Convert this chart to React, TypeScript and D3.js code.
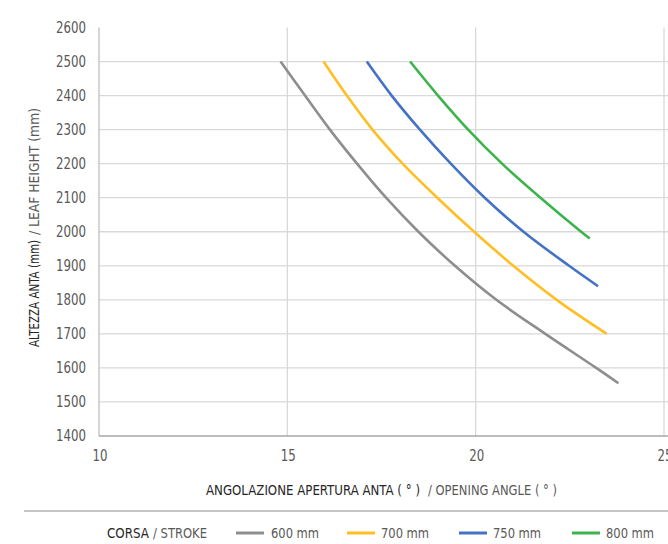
import React from "react";
import * as d3 from "d3";

const xTicks = [10, 15, 20, 25];
const yTicks = [1400, 1500, 1600, 1700, 1800, 1900, 2000, 2100, 2200, 2300, 2400, 2500, 2600];

const seriesNames = ["600 mm", "700 mm", "750 mm", "800 mm"];
const seriesColors = ["#8e8e8e", "#ffbf24", "#4472c4", "#3cb44b"];

const heights600 = [2500, 2400, 2300, 2200, 2100, 2000, 1900, 1800, 1700, 1600, 1555];
const angles600 = [14.82, 15.47, 16.13, 16.85, 17.62, 18.48, 19.45, 20.55, 21.85, 23.2, 23.79];

const heights700 = [2500, 2400, 2300, 2200, 2100, 2000, 1900, 1800, 1700];
const angles700 = [15.96, 16.58, 17.26, 18.06, 18.98, 19.96, 21.0, 22.15, 23.48];

const heights750 = [2500, 2400, 2300, 2200, 2100, 2000, 1900, 1840];
const angles750 = [17.11, 17.77, 18.52, 19.34, 20.24, 21.27, 22.48, 23.25];

const heights800 = [2500, 2400, 2300, 2200, 2100, 2000, 1980];
const angles800 = [18.26, 19.0, 19.8, 20.7, 21.72, 22.8, 23.03];

const series = [
  { angles: angles600, heights: heights600 },
  { angles: angles700, heights: heights700 },
  { angles: angles750, heights: heights750 },
  { angles: angles800, heights: heights800 },
];

const FONT = "'Liberation Sans Narrow', 'DejaVu Sans Condensed', Roboto, 'Liberation Sans', sans-serif";
const DARK = "#262626";
const GRAY = "#595959";

export default function App() {
  const W = 668, H = 544;
  const x = d3.scaleLinear().domain([10, 25]).range([99, 664]);
  const y = d3.scaleLinear().domain([1400, 2600]).range([436, 27.5]);

  const line = d3
    .line<[number, number]>()
    .x((d) => x(d[0]))
    .y((d) => y(d[1]))
    .curve(d3.curveCatmullRom.alpha(0.5));

  const legendItems = [
    { lx: 236, tx: 271 },
    { lx: 347, tx: 381 },
    { lx: 459, tx: 493 },
    { lx: 572, tx: 606 },
  ];

  return (
    <svg
      width={W}
      height={H}
      style={{ position: "absolute", left: 0, top: 0, display: "block", background: "#fff" }}
      fontFamily={FONT}
    >
      {yTicks
        .filter((t) => t !== 1400 && t !== 2600)
        .map((t) => (
          <line key={"h" + t} x1={x(10)} x2={W} y1={y(t)} y2={y(t)} stroke="#d9d9d9" strokeWidth={1.3} />
        ))}
      {xTicks
        .filter((t) => t !== 10)
        .map((t) => (
          <line key={"v" + t} x1={x(t)} x2={x(t)} y1={y(2600)} y2={y(1400)} stroke="#d9d9d9" strokeWidth={1.3} />
        ))}
      <line x1={x(10)} x2={x(10)} y1={y(2600)} y2={y(1400)} stroke="#bfbfbf" strokeWidth={1.3} />
      <line x1={x(10)} x2={W} y1={y(1400)} y2={y(1400)} stroke="#a6a6a6" strokeWidth={1.3} />

      {yTicks.map((t) => (
        <text
          key={"yl" + t}
          x={86}
          y={y(t)}
          dy="0.35em"
          textAnchor="end"
          fontSize={15}
          fill={GRAY}
          textLength={30}
          lengthAdjust="spacingAndGlyphs"
        >
          {t}
        </text>
      ))}
      {xTicks.map((t) => (
        <text
          key={"xl" + t}
          x={x(t) + 1}
          y={456}
          dy="0.35em"
          textAnchor="middle"
          fontSize={15}
          fill={GRAY}
          textLength={15}
          lengthAdjust="spacingAndGlyphs"
        >
          {t}
        </text>
      ))}

      {series.map((s, i) => (
        <path
          key={"s" + i}
          d={line(s.angles.map((a, j) => [a, s.heights[j]] as [number, number])) || ""}
          fill="none"
          stroke={seriesColors[i]}
          strokeWidth={2.6}
          strokeLinecap="butt"
        />
      ))}

      <g transform="translate(34,0) rotate(-90)">
        <text x={-347} y={0} dy="0.35em" fontSize={14.5} fill={DARK} textLength={107} lengthAdjust="spacingAndGlyphs">
          ALTEZZA ANTA (mm)
        </text>
        <text x={-235} y={0} dy="0.35em" fontSize={14.5} fill={GRAY} textLength={127} lengthAdjust="spacingAndGlyphs">
          / LEAF HEIGHT (mm)
        </text>
      </g>

      <text x={206} y={490} dy="0.35em" fontSize={14.5} fill={DARK} textLength={214} lengthAdjust="spacingAndGlyphs">
        ANGOLAZIONE APERTURA ANTA ( ° )
      </text>
      <text x={428} y={490} dy="0.35em" fontSize={14.5} fill={GRAY} textLength={129} lengthAdjust="spacingAndGlyphs">
        / OPENING ANGLE ( ° )
      </text>

      <line x1={24} x2={W} y1={511} y2={511} stroke="#8c8c8c" strokeWidth={1.2} />

      <text x={107} y={533} dy="0.35em" fontSize={14.5} fill={DARK} textLength={42} lengthAdjust="spacingAndGlyphs">
        CORSA
      </text>
      <text x={153} y={533} dy="0.35em" fontSize={14.5} fill={GRAY} textLength={54} lengthAdjust="spacingAndGlyphs">
        / STROKE
      </text>
      {seriesNames.map((name, i) => (
        <g key={"lg" + i}>
          <line
            x1={legendItems[i].lx}
            x2={legendItems[i].lx + 28}
            y1={533}
            y2={533}
            stroke={seriesColors[i]}
            strokeWidth={3}
          />
          <text
            x={legendItems[i].tx}
            y={533}
            dy="0.35em"
            fontSize={14.5}
            fill={GRAY}
            textLength={48}
            lengthAdjust="spacingAndGlyphs"
          >
            {name}
          </text>
        </g>
      ))}
    </svg>
  );
}
